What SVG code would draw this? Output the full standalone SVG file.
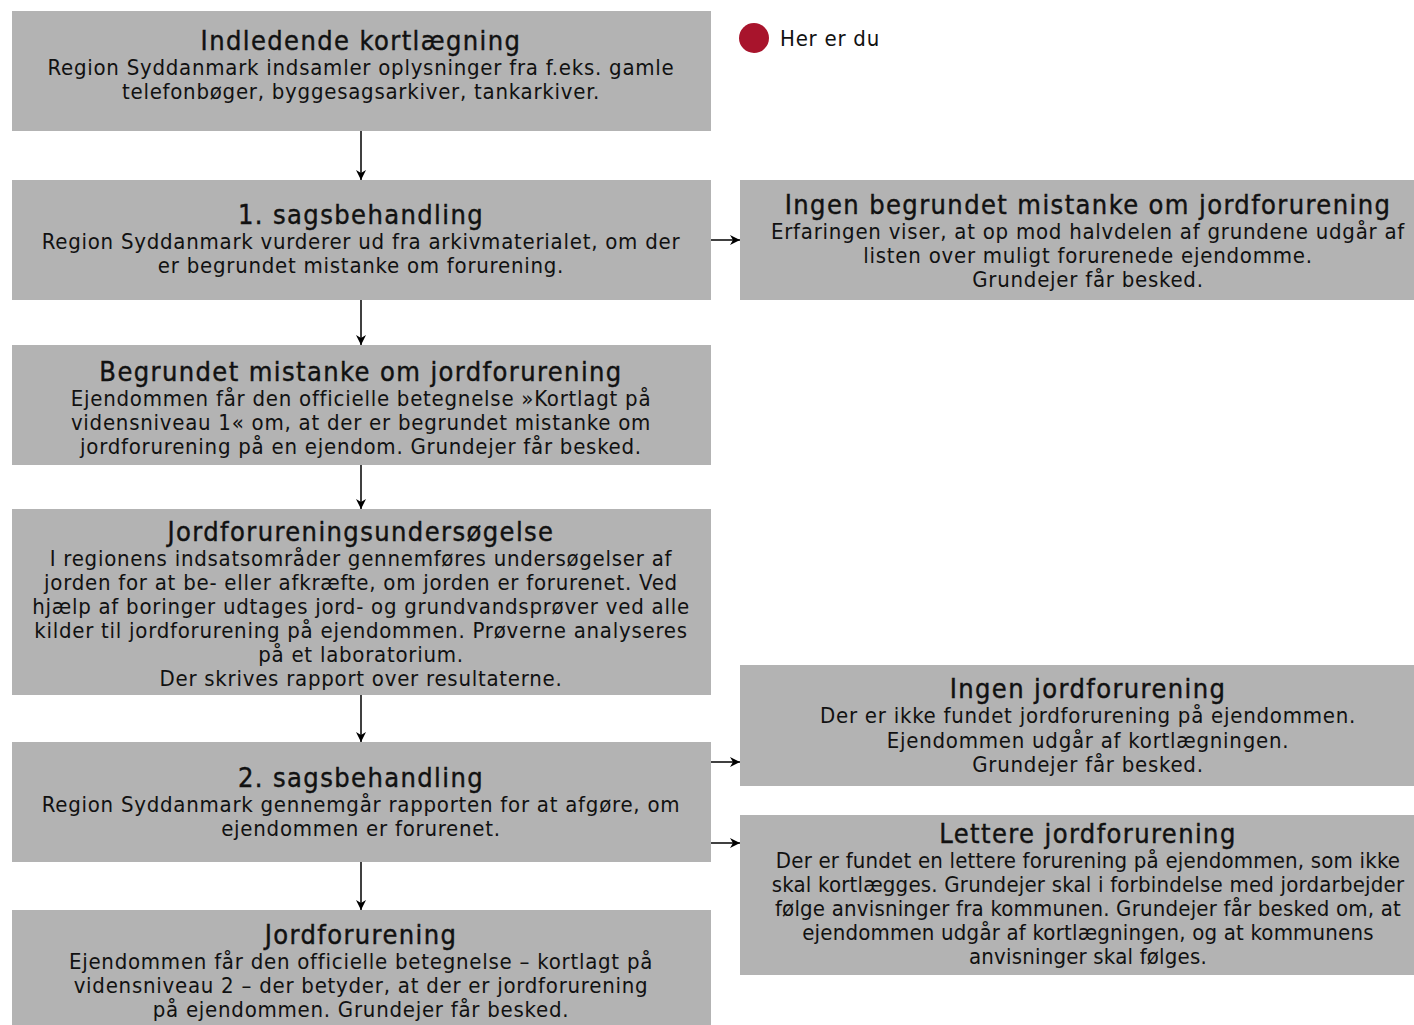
<svg xmlns="http://www.w3.org/2000/svg" width="1414" height="1025" viewBox="0 0 1414 1025">
<defs>
<marker id="ah" markerWidth="10" markerHeight="10" refX="10" refY="5" orient="auto" markerUnits="userSpaceOnUse" viewBox="0 0 10 10">
<path d="M0,0 L10,5 L0,10 L3,5 Z" fill="#000"/>
</marker>
<style>
.box{fill:#b3b3b3}
text{font-family:"DejaVu Sans Condensed","DejaVu Sans",sans-serif;font-stretch:condensed;fill:#111;text-anchor:middle}
.t{font-size:27px;letter-spacing:1.4px;stroke:#111;stroke-width:0.4px}
.b{font-size:22px;letter-spacing:0.75px}
.n{letter-spacing:0.2px}
.c{stroke:#000;stroke-width:1.5;fill:none;marker-end:url(#ah)}
</style>
</defs>
<rect width="1414" height="1025" fill="#fff"/>
<g id="legend">
<circle cx="754" cy="38" r="15" fill="#a8142c"/>
<text x="780" y="46" class="b" style="text-anchor:start">Her er du</text>
</g>
<g id="connectors">
<line class="c" x1="361" y1="131" x2="361" y2="180"/>
<line class="c" x1="361" y1="300" x2="361" y2="345"/>
<line class="c" x1="361" y1="465" x2="361" y2="509"/>
<line class="c" x1="361" y1="695" x2="361" y2="742"/>
<line class="c" x1="361" y1="862" x2="361" y2="910"/>
<line class="c" x1="711" y1="240" x2="740" y2="240"/>
<line class="c" x1="711" y1="762" x2="740" y2="762"/>
<line class="c" x1="711" y1="843" x2="740" y2="843"/>
</g>
<g id="n1">
<rect class="box" x="12" y="11" width="699" height="120"/>
<text x="361" y="50" class="t">Indledende kortlægning</text>
<text x="361" y="75" class="b">Region Syddanmark indsamler oplysninger fra f.eks. gamle</text>
<text x="361" y="99" class="b">telefonbøger, byggesagsarkiver, tankarkiver.</text>
</g>
<g id="n2">
<rect class="box" x="12" y="180" width="699" height="120"/>
<text x="361" y="224" class="t">1. sagsbehandling</text>
<text x="361" y="249" class="b">Region Syddanmark vurderer ud fra arkivmaterialet, om der</text>
<text x="361" y="273" class="b">er begrundet mistanke om forurening.</text>
</g>
<g id="n3">
<rect class="box" x="740" y="180" width="674" height="120"/>
<text x="1088" y="214" class="t">Ingen begrundet mistanke om jordforurening</text>
<text x="1088" y="239" class="b">Erfaringen viser, at op mod halvdelen af grundene udgår af</text>
<text x="1088" y="263" class="b">listen over muligt forurenede ejendomme.</text>
<text x="1088" y="287" class="b">Grundejer får besked.</text>
</g>
<g id="n4">
<rect class="box" x="12" y="345" width="699" height="120"/>
<text x="361" y="381" class="t">Begrundet mistanke om jordforurening</text>
<text x="361" y="406" class="b">Ejendommen får den officielle betegnelse »Kortlagt på</text>
<text x="361" y="430" class="b">vidensniveau 1« om, at der er begrundet mistanke om</text>
<text x="361" y="454" class="b">jordforurening på en ejendom. Grundejer får besked.</text>
</g>
<g id="n5">
<rect class="box" x="12" y="509" width="699" height="186"/>
<text x="361" y="541" class="t">Jordforureningsundersøgelse</text>
<text x="361" y="566" class="b">I regionens indsatsområder gennemføres undersøgelser af</text>
<text x="361" y="590" class="b">jorden for at be- eller afkræfte, om jorden er forurenet. Ved</text>
<text x="361" y="614" class="b">hjælp af boringer udtages jord- og grundvandsprøver ved alle</text>
<text x="361" y="638" class="b">kilder til jordforurening på ejendommen. Prøverne analyseres</text>
<text x="361" y="662" class="b">på et laboratorium.</text>
<text x="361" y="686" class="b">Der skrives rapport over resultaterne.</text>
</g>
<g id="n6">
<rect class="box" x="740" y="665" width="674" height="121"/>
<text x="1088" y="698" class="t">Ingen jordforurening</text>
<text x="1088" y="723" class="b">Der er ikke fundet jordforurening på ejendommen.</text>
<text x="1088" y="748" class="b">Ejendommen udgår af kortlægningen.</text>
<text x="1088" y="772" class="b">Grundejer får besked.</text>
</g>
<g id="n7">
<rect class="box" x="12" y="742" width="699" height="120"/>
<text x="361" y="787" class="t">2. sagsbehandling</text>
<text x="361" y="812" class="b">Region Syddanmark gennemgår rapporten for at afgøre, om</text>
<text x="361" y="836" class="b">ejendommen er forurenet.</text>
</g>
<g id="n8">
<rect class="box" x="740" y="815" width="674" height="160"/>
<text x="1088" y="843" class="t">Lettere jordforurening</text>
<text x="1088" y="868" class="b n">Der er fundet en lettere forurening på ejendommen, som ikke</text>
<text x="1088" y="892" class="b n">skal kortlægges. Grundejer skal i forbindelse med jordarbejder</text>
<text x="1088" y="916" class="b n">følge anvisninger fra kommunen. Grundejer får besked om, at</text>
<text x="1088" y="940" class="b n">ejendommen udgår af kortlægningen, og at kommunens</text>
<text x="1088" y="964" class="b n">anvisninger skal følges.</text>
</g>
<g id="n9">
<rect class="box" x="12" y="910" width="699" height="115"/>
<text x="361" y="944" class="t">Jordforurening</text>
<text x="361" y="969" class="b">Ejendommen får den officielle betegnelse – kortlagt på</text>
<text x="361" y="993" class="b">vidensniveau 2 – der betyder, at der er jordforurening</text>
<text x="361" y="1017" class="b">på ejendommen. Grundejer får besked.</text>
</g>
</svg>
